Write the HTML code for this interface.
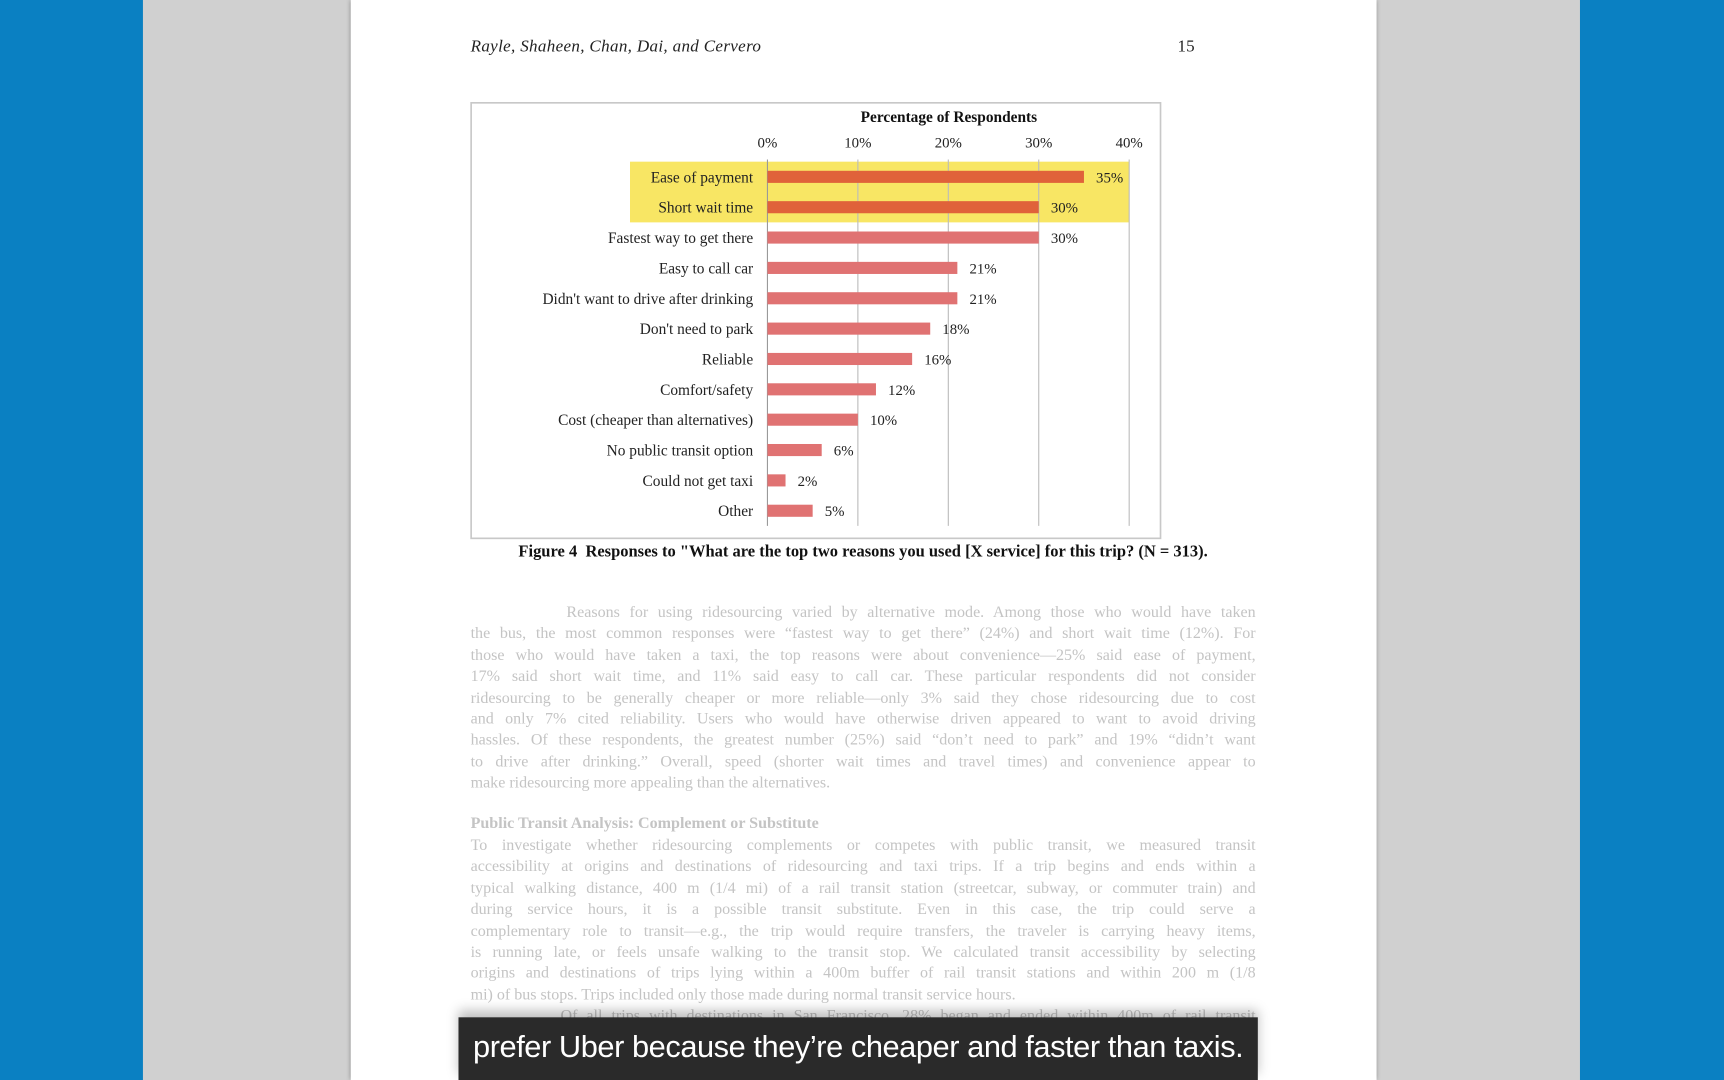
<!DOCTYPE html>
<html><head><meta charset="utf-8"><style>
html,body{margin:0;padding:0;width:1724px;height:1080px;overflow:hidden;background:#d0d0d0}
#stage{position:absolute;left:0;top:0;width:1568px;height:982px;transform:scale(1.09949,1.0998);transform-origin:0 0;background:#d0d0d0;font-family:"Liberation Serif",serif}
.abs{position:absolute}
.line{position:absolute;left:428px;width:714px;font-size:14.6px;color:#c4c4c4;white-space:nowrap;text-align:justify;text-align-last:justify;line-height:19px}
.line.last{text-align-last:left}
</style></head><body>
<div id="stage">
<div class="abs" style="left:0;top:0;width:130px;height:982px;background:#0a80c2"></div>
<div class="abs" style="left:1437px;top:0;width:131px;height:982px;background:#0a80c2"></div>
<div class="abs" style="left:319px;top:0;width:933px;height:982px;background:#fff;box-shadow:0 0 4px rgba(0,0,0,.35)"></div>
<div class="abs" style="left:428px;top:34px;font-size:15.5px;font-style:italic;color:#222;letter-spacing:0.3px">Rayle, Shaheen, Chan, Dai, and Cervero</div>
<div class="abs" style="left:1071px;top:34px;font-size:15.5px;color:#222">15</div>
<svg class="abs" style="left:0;top:0" width="1568" height="982" id="chart"></svg>
<div class="abs" style="left:400px;top:494px;width:770px;text-align:center;font-size:15px;font-weight:bold;color:#111">Figure 4&nbsp; Responses to "What are the top two reasons you used [X service] for this trip? (N = 313).</div>
<div id="body"></div>
<div class="abs" style="left:417px;top:925px;width:727px;height:57px;background:#2a2a2a;box-shadow:0 -6px 10px rgba(0,0,0,.25)"></div>
<div class="abs" style="left:417px;top:936px;width:727px;text-align:center;color:#fff;font-family:'Liberation Sans Narrow','Liberation Sans',sans-serif;font-size:28px;letter-spacing:-0.4px">prefer Uber because they’re cheaper and faster than taxis.</div>
</div>
<script>
const categories=["Ease of payment","Short wait time","Fastest way to get there","Easy to call car","Didn't want to drive after drinking","Don't need to park","Reliable","Comfort/safety","Cost (cheaper than alternatives)","No public transit option","Could not get taxi","Other"];
const values=[35,30,30,21,21,18,16,12,10,6,2,5];
const highlighted=[true,true,false,false,false,false,false,false,false,false,false,false];
const ticks=[0,10,20,30,40];
const tickLabels=["0%","10%","20%","30%","40%"];
const NS="http://www.w3.org/2000/svg";
const svg=document.getElementById('chart');
const x0=698,x1=1027,xmax=40;
const xs=v=>x0+(x1-x0)*v/xmax;
const rowTop=147,rowH=27.6;
const yc=i=>rowTop+rowH*(i+0.5);
function mk(t,a){const e=document.createElementNS(NS,t);for(const k in a)e.setAttribute(k,a[k]);svg.appendChild(e);return e;}
let e;
e=mk('rect',{x:428.5,y:93.5,width:627,height:396,fill:'#fff',stroke:'#c8c8c8','stroke-width':1.5});

const hiIdx=highlighted.map((h,i)=>h?i:-1).filter(i=>i>=0);
if(hiIdx.length){e=mk('rect',{x:573,y:yc(hiIdx[0])-rowH/2,width:x1-573,height:rowH*hiIdx.length,fill:'#f8e664'});
}
e=mk('text',{x:863,y:111,'text-anchor':'middle','font-size':14,'font-weight':'bold',fill:'#111','font-family':'Liberation Serif'});e.textContent='Percentage of Respondents';

ticks.forEach((t,i)=>{
 e=mk('line',{x1:xs(t),x2:xs(t),y1:rowTop-2,y2:rowTop+rowH*categories.length,stroke:i==0?'#999':'#bbb','stroke-width':1});
 
 e=mk('text',{x:xs(t),y:134,'text-anchor':'middle','font-size':13.5,fill:'#222','font-family':'Liberation Serif'});e.textContent=tickLabels[i];
 
});
categories.forEach((c,i)=>{
 const y=yc(i);
 e=mk('text',{x:685,y:y+5,'text-anchor':'end','font-size':14,fill:'#222','font-family':'Liberation Serif'});e.textContent=c;
 
 e=mk('rect',{x:x0,y:y-5.5,width:xs(values[i])-x0,height:11,fill:highlighted[i]?'#e0623a':'#e07272'});
 
 e=mk('text',{x:xs(values[i])+11,y:y+5,'font-size':13.5,fill:'#222','font-family':'Liberation Serif'});e.textContent=values[i]+'%';
 
});
const p1=["\u00a0\u00a0\u00a0\u00a0\u00a0\u00a0\u00a0\u00a0\u00a0\u00a0Reasons for using ridesourcing varied by alternative mode. Among those who would have taken",
"the bus, the most common responses were “fastest way to get there” (24%) and short wait time (12%). For",
"those who would have taken a taxi, the top reasons were about convenience—25% said ease of payment,",
"17% said short wait time, and 11% said easy to call car. These particular respondents did not consider",
"ridesourcing to be generally cheaper or more reliable—only 3% said they chose ridesourcing due to cost",
"and only 7% cited reliability. Users who would have otherwise driven appeared to want to avoid driving",
"hassles. Of these respondents, the greatest number (25%) said “don’t need to park” and 19% “didn’t want",
"to drive after drinking.” Overall, speed (shorter wait times and travel times) and convenience appear to",
"make ridesourcing more appealing than the alternatives."];
const p2=["To investigate whether ridesourcing complements or competes with public transit, we measured transit",
"accessibility at origins and destinations of ridesourcing and taxi trips. If a trip begins and ends within a",
"typical walking distance, 400 m (1/4 mi) of a rail transit station (streetcar, subway, or commuter train) and",
"during service hours, it is a possible transit substitute. Even in this case, the trip could serve a",
"complementary role to transit—e.g., the trip would require transfers, the traveler is carrying heavy items,",
"is running late, or feels unsafe walking to the transit stop. We calculated transit accessibility by selecting",
"origins and destinations of trips lying within a 400m buffer of rail transit stations and within 200 m (1/8",
"mi) of bus stops. Trips included only those made during normal transit service hours.",
"\u00a0\u00a0\u00a0\u00a0\u00a0\u00a0\u00a0\u00a0\u00a0\u00a0Of all trips with destinations in San Francisco, 28% began and ended within 400m of rail transit"];
const body=document.getElementById('body');
function addLine(t,top,last,name){const d=document.createElement('div');d.className='line'+(last?' last':'');d.style.top=top+'px';d.textContent=t;


body.appendChild(d);}
p1.forEach((t,i)=>addLine(t,548+i*19.4,i==p1.length-1,'paragraph-line'));
const h=document.createElement('div');h.className='line last';h.style.top='740px';h.style.fontWeight='bold';h.textContent='Public Transit Analysis: Complement or Substitute';


body.appendChild(h);
p2.forEach((t,i)=>addLine(t,760+i*19.4,i==p2.length-2,'paragraph-line'));
</script>
</body></html>
